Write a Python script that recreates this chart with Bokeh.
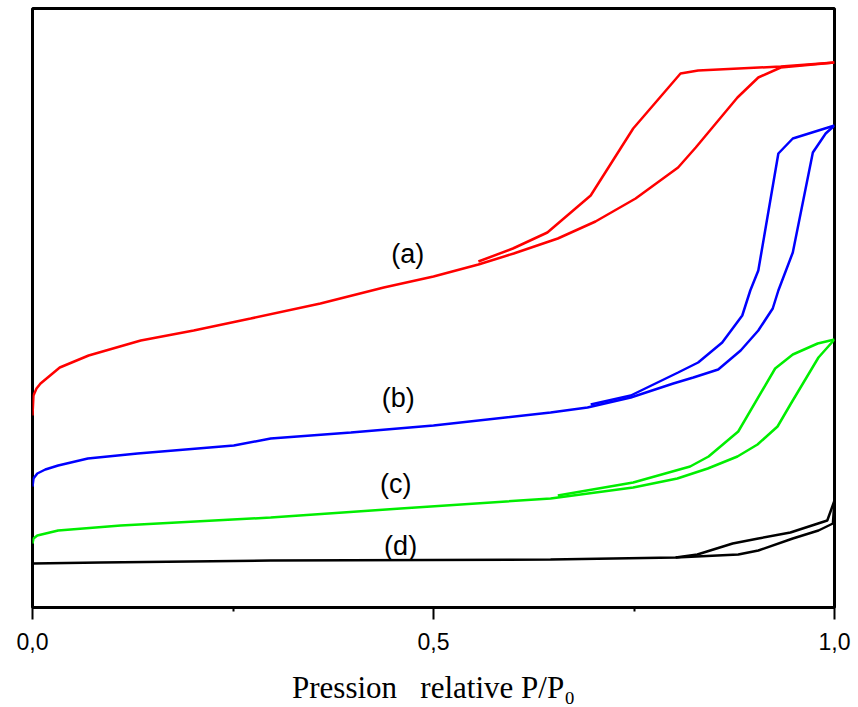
from bokeh.plotting import figure
from bokeh.models import Range1d, FixedTicker, ColumnDataSource
from bokeh.core.properties import value
from bokeh.embed import file_html
from bokeh.resources import INLINE

# (a) red
a_ads_x = [0, 0.0012, 0.005, 0.010, 0.034, 0.070, 0.135, 0.201, 0.272, 0.359, 0.438, 0.5, 0.556, 0.600, 0.655, 0.702, 0.752, 0.805, 0.827, 0.879, 0.905, 0.933, 1.0]
a_ads_y = [192, 212, 219, 224, 240, 252, 267, 277, 289, 304, 320, 331, 343, 354, 369, 386, 409, 440, 460, 510, 530, 540, 545]
a_des_x = [1.0, 0.933, 0.830, 0.808, 0.749, 0.696, 0.642, 0.599, 0.556]
a_des_y = [545, 541, 537, 534, 479, 412, 375, 359, 346]

# (b) blue
b_ads_x = [0, 0.0012, 0.006, 0.016, 0.032, 0.069, 0.131, 0.251, 0.297, 0.397, 0.5, 0.646, 0.692, 0.746, 0.799, 0.824, 0.855, 0.883, 0.905, 0.923, 0.930, 0.948, 0.973, 0.989, 1.0]
b_ads_y = [121, 129, 134, 138, 142, 149, 154, 162, 169, 175, 182, 195, 200, 210, 224, 230, 238, 257, 277, 299, 317, 355, 455, 474, 482]
b_des_x = [1.0, 0.948, 0.930, 0.905, 0.895, 0.885, 0.860, 0.830, 0.805, 0.746, 0.696]
b_des_y = [482, 469, 454, 337, 317, 292, 265, 245, 235, 212, 203]

# (c) green
c_ads_x = [0, 0.0012, 0.006, 0.032, 0.110, 0.297, 0.459, 0.646, 0.749, 0.804, 0.842, 0.879, 0.904, 0.929, 0.945, 0.980, 1.0]
c_ads_y = [64, 69, 72, 77, 82, 90, 99, 109, 120, 129, 139, 151, 163, 181, 203, 250, 268]
c_des_x = [1.0, 0.979, 0.948, 0.926, 0.880, 0.843, 0.820, 0.749, 0.655]
c_des_y = [268, 264, 253, 239, 176, 151, 141, 125, 112]

# (d) black
d_ads_x = [0, 0.085, 0.297, 0.646, 0.802, 0.880, 0.905, 0.948, 0.980, 0.998, 1.0]
d_ads_y = [44, 45, 47, 48, 50, 53, 57, 69, 77, 84, 107]
d_des_x = [1.0, 0.991, 0.945, 0.905, 0.873, 0.829, 0.802]
d_des_y = [107, 87, 75, 69, 64, 53, 50]

label_text = ["(a)", "(b)", "(c)", "(d)"]
label_x = [0.468, 0.456, 0.453, 0.459]
label_y = [354, 210, 124, 62]

tick_values = [0, 0.5, 1.0]
tick_labels = ["0,0", "0,5", "1,0"]
minor_values = [0.25, 0.75]

p = figure(width=852, height=707, output_backend="svg", toolbar_location=None,
           x_range=Range1d(0, 1), y_range=Range1d(0, 599),
           min_border_left=32, min_border_right=18, min_border_top=8, min_border_bottom=100)
p.grid.visible = False
p.yaxis.visible = False
p.outline_line_color = "black"
p.outline_line_width = 3
p.background_fill_color = "white"
p.border_fill_color = "white"

ax = p.xaxis[0]
ax.ticker = FixedTicker(ticks=tick_values, minor_ticks=minor_values)
ax.major_label_overrides = {v: l for v, l in zip(tick_values, tick_labels)}
ax.axis_line_width = 3
ax.axis_line_color = "black"
ax.major_tick_line_width = 2
ax.major_tick_out = 12
ax.major_tick_in = 0
ax.minor_tick_line_width = 2
ax.minor_tick_out = 4
ax.minor_tick_in = 0
ax.major_label_text_font = "Liberation Sans"
ax.major_label_text_font_size = "23px"
ax.major_label_text_color = "black"
ax.major_label_standoff = 13
ax.axis_label = "Pression\u00a0\u00a0\u00a0relative P/P\u2080"
ax.axis_label_text_font = "Liberation Serif"
ax.axis_label_text_font_size = "31px"
ax.axis_label_text_font_style = "normal"
ax.axis_label_text_color = "black"
ax.axis_label_standoff = 17

lw = 2.5
p.line(a_ads_x, a_ads_y, color="#ff0000", line_width=lw)
p.line(a_des_x, a_des_y, color="#ff0000", line_width=lw)
p.line(b_ads_x, b_ads_y, color="#0000ff", line_width=lw)
p.line(b_des_x, b_des_y, color="#0000ff", line_width=lw)
p.line(c_ads_x, c_ads_y, color="#00ee00", line_width=lw)
p.line(c_des_x, c_des_y, color="#00ee00", line_width=lw)
p.line(d_ads_x, d_ads_y, color="black", line_width=lw)
p.line(d_des_x, d_des_y, color="black", line_width=lw)

src = ColumnDataSource(dict(x=label_x, y=label_y, t=label_text))
p.text(x="x", y="y", text="t", source=src, text_align="center", text_baseline="middle",
       text_font=value("Liberation Sans"), text_font_size="27px", text_color="black")

open("out.html", "w").write(file_html(p, INLINE))
